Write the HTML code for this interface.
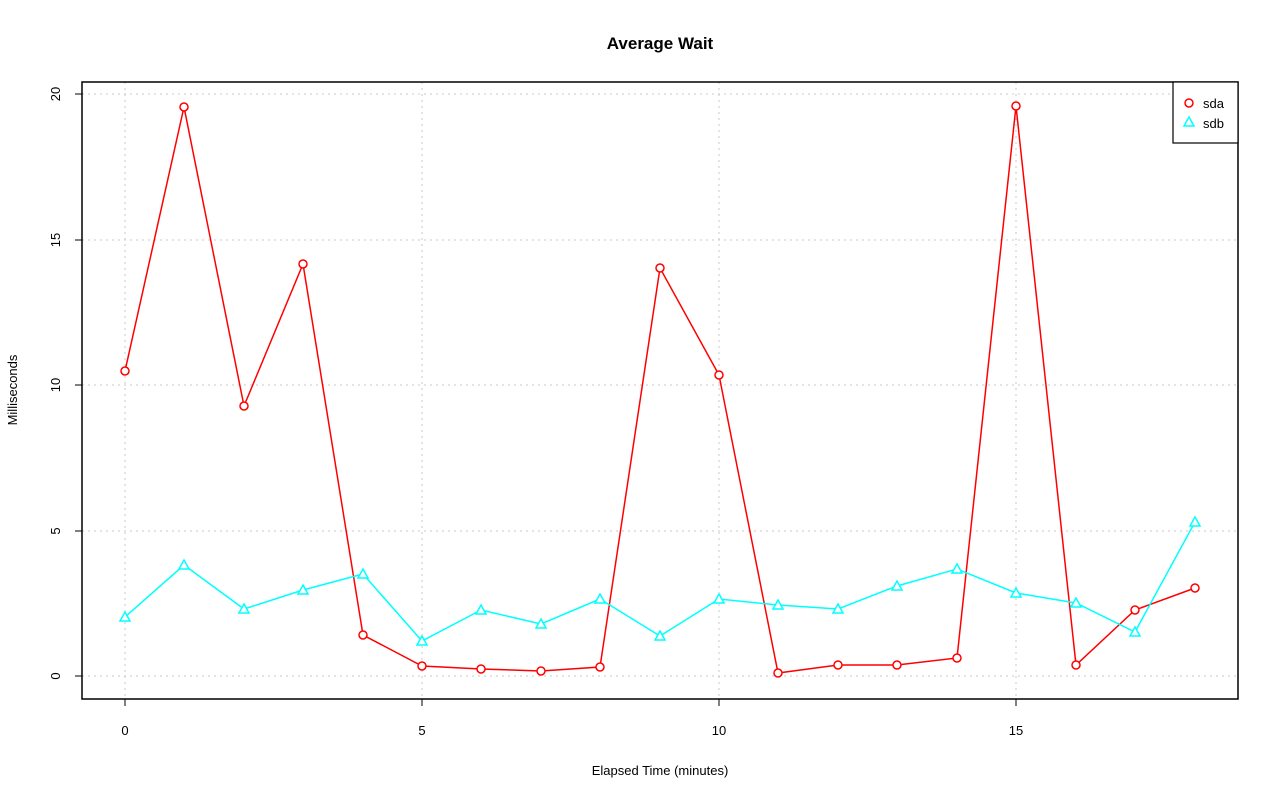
<!DOCTYPE html>
<html><head><meta charset="utf-8"><style>body{margin:0;background:#fff}svg{display:block}</style></head><body>
<svg width="1280" height="801" xmlns="http://www.w3.org/2000/svg" font-family="Liberation Sans, sans-serif">
<rect width="1280" height="801" fill="#fff"/>
<text x="660" y="49" font-size="17" font-weight="bold" text-anchor="middle">Average Wait</text>
<g stroke="#c8c8c8" stroke-dasharray="2,4" stroke-width="1">
<line x1="125" y1="82" x2="125" y2="699"/><line x1="422" y1="82" x2="422" y2="699"/><line x1="719" y1="82" x2="719" y2="699"/><line x1="1016" y1="82" x2="1016" y2="699"/>
<line x1="82" y1="676" x2="1238" y2="676"/><line x1="82" y1="531" x2="1238" y2="531"/><line x1="82" y1="385" x2="1238" y2="385"/><line x1="82" y1="240" x2="1238" y2="240"/><line x1="82" y1="94" x2="1238" y2="94"/>
</g>
<rect x="82" y="82" width="1156" height="617" fill="none" stroke="#000" stroke-width="1.5"/>
<g stroke="#000"><line x1="125" y1="699" x2="1016" y2="699"/>
<line x1="125" y1="699" x2="125" y2="706"/><line x1="422" y1="699" x2="422" y2="706"/><line x1="719" y1="699" x2="719" y2="706"/><line x1="1016" y1="699" x2="1016" y2="706"/>
<line x1="82" y1="676" x2="82" y2="94"/>
<line x1="75" y1="676" x2="82" y2="676"/><line x1="75" y1="531" x2="82" y2="531"/><line x1="75" y1="385" x2="82" y2="385"/><line x1="75" y1="240" x2="82" y2="240"/><line x1="75" y1="94" x2="82" y2="94"/></g>
<g font-size="13" text-anchor="middle">
<text x="125" y="735">0</text><text x="422" y="735">5</text><text x="719" y="735">10</text><text x="1016" y="735">15</text>
<text transform="translate(60,676) rotate(-90)">0</text><text transform="translate(60,531) rotate(-90)">5</text><text transform="translate(60,385) rotate(-90)">10</text><text transform="translate(60,240) rotate(-90)">15</text><text transform="translate(60,94) rotate(-90)">20</text>
<text x="660" y="775">Elapsed Time (minutes)</text>
<text transform="translate(17,390) rotate(-90)">Milliseconds</text>
</g>
<polyline fill="none" stroke="#ff0000" stroke-width="1.5" points="125,371 184,107 244,406 303,264 363,635 422,666 481,669 541,671 600,667 660,268 719,375 778,673 838,665 897,665 957,658 1016,106 1076,665 1135,610 1195,588"/>
<polyline fill="none" stroke="#00ffff" stroke-width="1.5" points="125,617 184,565 244,609 303,590 363,574 422,641 481,610 541,624 600,599 660,636 719,599 778,605 838,609 897,586 957,569 1016,593 1076,603 1135,632 1195,522"/>
<g fill="#fff" stroke="#ff0000" stroke-width="1.5">
<circle cx="125" cy="371" r="4"/><circle cx="184" cy="107" r="4"/><circle cx="244" cy="406" r="4"/><circle cx="303" cy="264" r="4"/><circle cx="363" cy="635" r="4"/><circle cx="422" cy="666" r="4"/><circle cx="481" cy="669" r="4"/><circle cx="541" cy="671" r="4"/><circle cx="600" cy="667" r="4"/><circle cx="660" cy="268" r="4"/><circle cx="719" cy="375" r="4"/><circle cx="778" cy="673" r="4"/><circle cx="838" cy="665" r="4"/><circle cx="897" cy="665" r="4"/><circle cx="957" cy="658" r="4"/><circle cx="1016" cy="106" r="4"/><circle cx="1076" cy="665" r="4"/><circle cx="1135" cy="610" r="4"/><circle cx="1195" cy="588" r="4"/>
</g>
<g fill="#fff" stroke="#00ffff" stroke-width="1.5">
<path d="M125,612 l5,9 h-10z"/><path d="M184,560 l5,9 h-10z"/><path d="M244,604 l5,9 h-10z"/><path d="M303,585 l5,9 h-10z"/><path d="M363,569 l5,9 h-10z"/><path d="M422,636 l5,9 h-10z"/><path d="M481,605 l5,9 h-10z"/><path d="M541,619 l5,9 h-10z"/><path d="M600,594 l5,9 h-10z"/><path d="M660,631 l5,9 h-10z"/><path d="M719,594 l5,9 h-10z"/><path d="M778,600 l5,9 h-10z"/><path d="M838,604 l5,9 h-10z"/><path d="M897,581 l5,9 h-10z"/><path d="M957,564 l5,9 h-10z"/><path d="M1016,588 l5,9 h-10z"/><path d="M1076,598 l5,9 h-10z"/><path d="M1135,627 l5,9 h-10z"/><path d="M1195,517 l5,9 h-10z"/>
</g>
<rect x="1173" y="82" width="65" height="61" fill="#fff" stroke="#000" stroke-width="1.2"/>
<circle cx="1189" cy="103" r="4" fill="#fff" stroke="#ff0000" stroke-width="1.5"/>
<path d="M1189,117 l5,9 h-10z" fill="#fff" stroke="#00ffff" stroke-width="1.5"/>
<text x="1203" y="108" font-size="13">sda</text>
<text x="1203" y="128" font-size="13">sdb</text>
</svg>
</body></html>
